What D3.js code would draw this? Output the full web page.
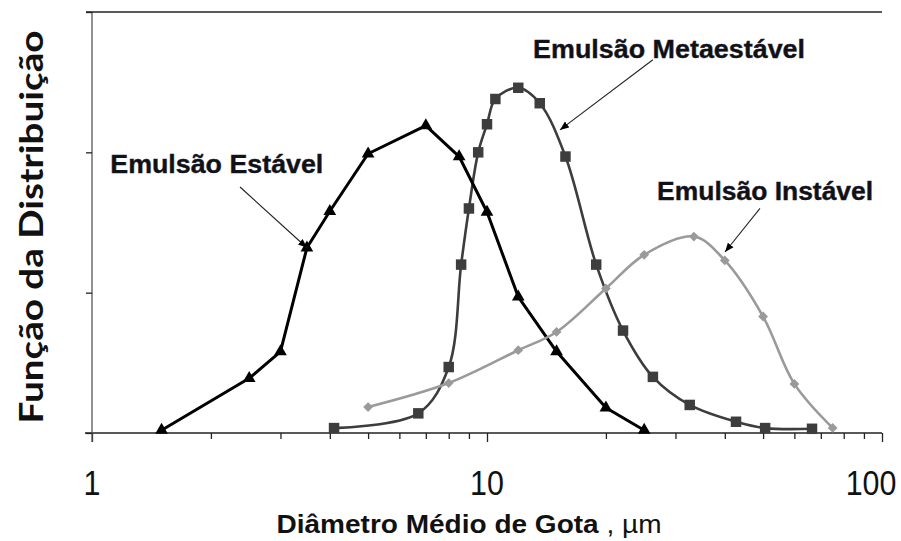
<!DOCTYPE html>
<html><head><meta charset="utf-8">
<script src="https://cdn.jsdelivr.net/npm/d3@7"></script>
<style>body{margin:0;background:#fff}svg{display:block}</style>
</head><body><svg id="c" width="901" height="541"></svg>
<script>
// ---- data ----
const estavelX = [1.5, 2.5, 3, 3.5, 4, 5, 7, 8.5, 10, 12, 15, 20, 25];
const estavelY = [0.02, 0.39, 0.58, 1.32, 1.58, 1.99, 2.19, 1.97, 1.575, 0.97, 0.58, 0.18, 0.02];
const metaX = [4.1, 6.7, 8, 8.6, 9, 9.5, 10, 10.5, 12, 13.6, 15.8, 18.9, 22.1, 26.3, 32.6, 42.7, 50.6, 66.5];
const metaY = [0.035, 0.14, 0.47, 1.2, 1.6, 2.0, 2.2, 2.38, 2.46, 2.35, 1.97, 1.2, 0.73, 0.4, 0.2, 0.08, 0.035, 0.03];
const instX = [5, 8, 12, 15, 20, 25, 33.4, 40, 50, 60, 75];
const instY = [0.185, 0.356, 0.59, 0.72, 1.03, 1.27, 1.40, 1.23, 0.83, 0.35, 0.036];
const xTickLabels = [1, 10, 100];
const yTicks = [0, 1, 2, 3];
const seriesNames = ["Emulsão Estável", "Emulsão Metaestável", "Emulsão Instável"];
// annotation anchors in data space: [labelX, labelY, arrowStartX, arrowStartY, tipX, tipY]
const annEstavel = [2.07, 1.853, 2.37, 1.753, 3.5, 1.32];
const annMeta = [28.9, 2.673, 26.3, 2.66, 15.3, 2.16];
const annInst = [50.6, 1.661, 49.1, 1.60, 40.05, 1.29];

const svg = d3.select("#c");
const x = d3.scaleLog().domain([1, 100]).range([92, 882]);
const y = d3.scaleLinear().domain([0, 3]).range([433, 12]);

svg.append("defs").append("marker")
  .attr("id", "ah").attr("viewBox", "0 0 10 10").attr("refX", 10).attr("refY", 5)
  .attr("markerWidth", 9).attr("markerHeight", 9).attr("markerUnits", "userSpaceOnUse")
  .attr("orient", "auto")
  .append("path").attr("d", "M0,1 L10,5 L0,9 Z").attr("fill", "#000");

// axes
const minor = d3.range(1, 10).concat(d3.range(10, 100, 10)).concat([100]);
const gx = svg.append("g").attr("transform", `translate(0,${y(0)})`)
  .call(d3.axisBottom(x).tickValues(minor).tickFormat("").tickSizeOuter(0).tickSize(6));
gx.selectAll(".tick line").attr("y2", d => xTickLabels.includes(d) ? 9 : 6)
  .attr("stroke", "#222").attr("stroke-width", 1.3);
gx.select(".domain").attr("stroke", "#222").attr("stroke-width", 1.3)
  .attr("d", `M${x(1) - 7},0H${x(100)}`);

const gy = svg.append("g").attr("transform", `translate(${x(1)},0)`)
  .call(d3.axisLeft(y).tickValues(yTicks).tickFormat("").tickSizeOuter(0).tickSize(6));
gy.selectAll(".tick line").attr("stroke", "#222").attr("stroke-width", 1.3);
gy.select(".domain").attr("stroke", "#555").attr("stroke-width", 1.3)
  .attr("d", `M0,${y(3)}V${y(0) + 9}`);
// top frame line
svg.append("line").attr("x1", x(1) - 6).attr("x2", x(100)).attr("y1", y(3)).attr("y2", y(3))
  .attr("stroke", "#222").attr("stroke-width", 1.3);

// tick labels
svg.append("g").selectAll("text").data(xTickLabels).join("text")
  .attr("x", (d, i) => Math.min(x(d), 871))
  .attr("y", 495)
  .attr("text-anchor", "middle")
  .attr("font-family", "Liberation Sans, Arial, sans-serif")
  .attr("font-size", 32).attr("fill", "#111")
  .attr("transform", d => `translate(${Math.min(x(d),871)},495) scale(0.95,1.12) translate(${-Math.min(x(d),871)},-495)`)
  .text(d => d);

// axis titles
const xt = svg.append("text").attr("x", 469).attr("y", 533).attr("text-anchor", "middle")
  .attr("font-family", "Liberation Sans, Arial, sans-serif").attr("font-size", 25).attr("fill", "#111")
  .attr("textLength", 385).attr("lengthAdjust", "spacingAndGlyphs");
xt.append("tspan").attr("font-weight", "bold").text("Diâmetro Médio de Gota");
xt.append("tspan").text(" ,  µm");

svg.append("text").attr("transform", "translate(43,227) rotate(-90)")
  .attr("text-anchor", "middle").attr("font-family", "Lato, Open Sans, sans-serif")
  .attr("font-weight", "bold").attr("font-size", 33).attr("fill", "#111")
  .attr("textLength", 393).attr("lengthAdjust", "spacingAndGlyphs")
  .text("Função da Distribuição");

// series
function series(xs, ys, color, width, curve, symbol, size, rot) {
  const pts = xs.map((v, i) => [v, ys[i]]);
  const line = d3.line().x(d => x(d[0])).y(d => y(d[1])).curve(curve);
  svg.append("path").attr("d", line(pts)).attr("fill", "none")
    .attr("stroke", color).attr("stroke-width", width).attr("stroke-linejoin", "round");
  svg.append("g").selectAll("path").data(pts).join("path")
    .attr("d", d3.symbol().type(symbol).size(size)())
    .attr("transform", d => `translate(${x(d[0])},${y(d[1])}) rotate(${rot})`)
    .attr("fill", color);
}
series(metaX, metaY, "#3d3d3d", 2.6, d3.curveCatmullRom.alpha(0.5), d3.symbolSquare, 110, 0);
series(estavelX, estavelY, "#000", 3, d3.curveLinear, d3.symbolTriangle, 70, 0);
series(instX, instY, "#9a9a9a", 2.6, d3.curveCatmullRom.alpha(0.5), d3.symbolSquare, 48, 45);

// annotations
function annotate(a, name, width) {
  svg.append("text").attr("x", x(a[0])).attr("y", y(a[1])).attr("text-anchor", "middle")
    .attr("font-family", "Liberation Sans, Arial, sans-serif").attr("font-weight", "bold")
    .attr("font-size", 25).attr("fill", "#111").attr("stroke", "#1c1c3a").attr("stroke-width", 0.4)
    .attr("textLength", width).attr("lengthAdjust", "spacingAndGlyphs").text(name);
  svg.append("line").attr("x1", x(a[2])).attr("y1", y(a[3])).attr("x2", x(a[4])).attr("y2", y(a[5]))
    .attr("stroke", "#222").attr("stroke-width", 1.1).attr("marker-end", "url(#ah)");
}
annotate(annEstavel, seriesNames[0], 213);
annotate(annMeta, seriesNames[1], 272);
annotate(annInst, seriesNames[2], 216);
</script></body></html>
